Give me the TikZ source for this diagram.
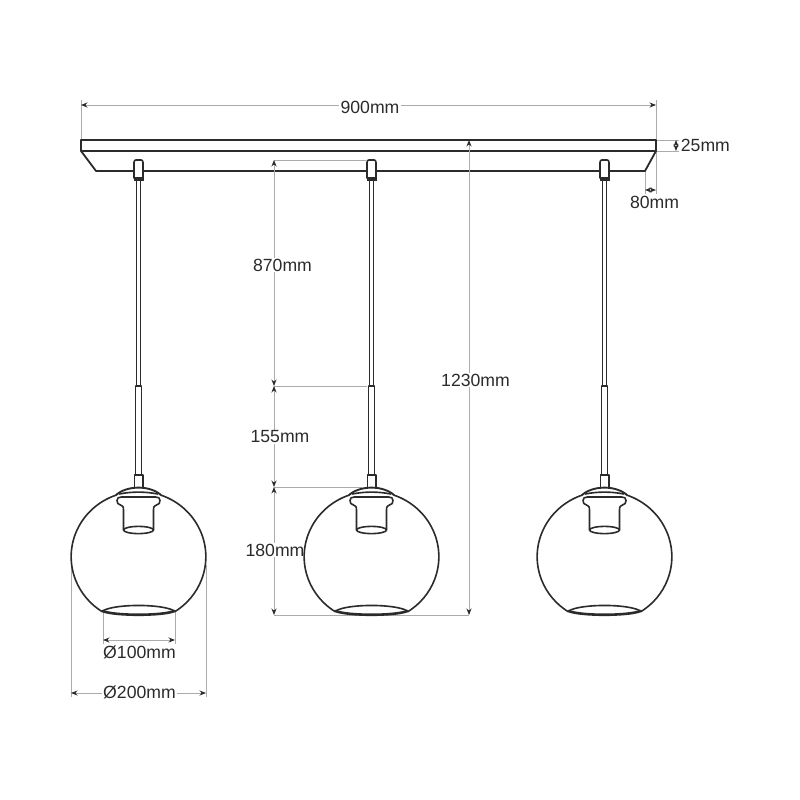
\documentclass[tikz,border=0pt]{standalone}
\usepackage{fontspec}
\setmainfont{Liberation Sans}
\usetikzlibrary{arrows.meta}
\definecolor{ink}{HTML}{2B2B2B}
\definecolor{dimgrey}{HTML}{ABABAB}
\tikzset{
  lampline/.style={draw=ink,line width=1.6bp,line join=round,line cap=round},
  thinlamp/.style={draw=ink,line width=1.1bp},
  extline/.style={draw=dimgrey,line width=0.8bp},
  dimline/.style={draw=dimgrey,line width=0.8bp,{Stealth[length=6.5bp,width=5bp,color=ink]}-{Stealth[length=6.5bp,width=5bp,color=ink]}},
  dimlabel/.style={font=\fontsize{17.7}{21}\selectfont,text=ink,fill=white,inner sep=1.2bp},
  lamp/.pic={
    % cable
    \draw[thinlamp] (-2,-180) -- (-2,-386) (2,-180) -- (2,-386);
    % ceiling socket
    \draw[lampline,fill=white] (-4.5,-178) -- (-4.5,-162.5) .. controls (-4.5,-160.5) and (-3.5,-160) .. (-2.5,-160) -- (2.5,-160) .. controls (3.5,-160) and (4.5,-160.5) .. (4.5,-162.5) -- (4.5,-178);
    \fill[ink] (-5,-176.5) rectangle (5,-180.5);
    % rod and stem
    \draw[lampline] (-2.7,-386) -- (2.7,-386);
    \draw[thinlamp] (-2.8,-386) -- (-2.8,-475) (2.8,-386) -- (2.8,-475);
    \draw[lampline] (-4.2,-487) -- (-4.2,-475) -- (4.2,-475) -- (4.2,-487);
    % glass globe
    \draw[lampline] (23.5,-495.5) arc[start angle=69.6,end angle=-57.2,x radius=67.3,y radius=65.3];
    \draw[lampline] (-23.5,-495.5) arc[start angle=110.4,end angle=237.2,x radius=67.3,y radius=65.3];
    % cap
    \draw[lampline,line width=1.9bp,fill=white] (-23,-495.5) .. controls (-12,-485) and (12,-485) .. (23,-495.5);
    \draw[lampline] (-19,-494) .. controls (-8,-491.5) and (8,-491.5) .. (19,-494);
    % holder
    \draw[lampline] (-15,-530) -- (-15,-510) .. controls (-15,-506.5) and (-16,-505.5) .. (-18,-505) .. controls (-20.5,-504.5) and (-21.5,-503) .. (-21.5,-500.5) .. controls (-21.5,-498) and (-20,-497) .. (-17,-497) -- (17,-497) .. controls (20,-497) and (21.5,-498) .. (21.5,-500.5) .. controls (21.5,-503) and (20.5,-504.5) .. (18,-505) .. controls (16,-505.5) and (15,-506.5) .. (15,-510) -- (15,-530);
    \draw[lampline] (0,-530) ellipse[x radius=15,y radius=3.6];
    % opening
    \draw[lampline] (-36,-611) .. controls (-24,-603.6) and (24,-603.6) .. (36,-611);
    \draw[draw=ink,line width=2.6bp,line cap=round] (-36,-611) .. controls (-24,-616) and (24,-616) .. (36,-611);
  }
}
\begin{document}
\begin{tikzpicture}[x=1bp,y=1bp]
\useasboundingbox (0,0) rectangle (800,-800);
\fill[white] (0,0) rectangle (800,-800);

% named reference points
\coordinate (barTL) at (81,-140);
\coordinate (barTR) at (656,-140);
\coordinate (barML) at (81,-151);
\coordinate (barMR) at (656,-151);
\coordinate (barBL) at (96,-171);
\coordinate (barBR) at (645,-171);

\coordinate (w900L) at (81,-105);
\coordinate (w900R) at (656,-105);
\coordinate (extTL) at (81,-100);
\coordinate (extTR) at (656,-100);
\coordinate (extR80) at (656,-194);
\coordinate (extB80) at (645,-194);
\coordinate (d80L) at (645,-190);
\coordinate (d80R) at (656,-190);
\coordinate (ext25a) at (679,-140);
\coordinate (ext25b) at (679,-151);
\coordinate (d25a) at (676,-140);
\coordinate (d25b) at (676,-151);

\coordinate (v160) at (274,-160);
\coordinate (v386) at (274,-386);
\coordinate (v487) at (274,-487);
\coordinate (v615) at (274,-615);
\coordinate (e160) at (366,-160);
\coordinate (e386) at (367,-386);
\coordinate (e487) at (362,-487);
\coordinate (h140) at (469,-140);
\coordinate (h615) at (469,-615);

\coordinate (op1L) at (103,-612);
\coordinate (op1R) at (175,-612);
\coordinate (op1Lb) at (103,-645);
\coordinate (op1Rb) at (175,-645);
\coordinate (d100L) at (103,-640);
\coordinate (d100R) at (175,-640);
\coordinate (gl1L) at (71,-565);
\coordinate (gl1R) at (206,-565);
\coordinate (gl1Lb) at (71,-697);
\coordinate (gl1Rb) at (206,-697);
\coordinate (d200L) at (71,-693);
\coordinate (d200R) at (206,-693);

% extension lines
\draw[extline] (extTL) -- (barTL);
\draw[extline] (extTR) -- (extR80);
\draw[extline] (barBR) -- (extB80);
\draw[extline] (barTR) -- (ext25a);
\draw[extline] (barMR) -- (ext25b);
\draw[extline] (v160) -- (e160);
\draw[extline] (v386) -- (e386);
\draw[extline] (v487) -- (e487);
\draw[extline] (v615) -- (h615);
\draw[extline] (op1L) -- (op1Lb);
\draw[extline] (op1R) -- (op1Rb);
\draw[extline] (gl1L) -- (gl1Lb);
\draw[extline] (gl1R) -- (gl1Rb);

% ceiling bar
\draw[lampline,line width=1.8bp] (barTL) -- (barTR) -- (barMR) -- (barML) -- cycle;
\draw[lampline,line width=1.8bp] (barML) -- (barBL) -- (barBR) -- (barMR);

% dimension lines
\draw[dimline] (w900L) -- (w900R);
\draw[dimline] (d80L) -- (d80R);
\draw[dimline] (d25a) -- (d25b);
\draw[dimline] (v160) -- (v386);
\draw[dimline] (v386) -- (v487);
\draw[dimline] (v487) -- (v615);
\draw[dimline] (h140) -- (h615);
\draw[dimline] (d100L) -- (d100R);
\draw[dimline] (d200L) -- (d200R);

% labels
\node[dimlabel] (t900) at (370,-107) {900mm};
\node[dimlabel,anchor=west] (t25) at (679.5,-145) {25mm};
\node[dimlabel] (t80) at (654.5,-202) {80mm};
\node[dimlabel] (t870) at (282.5,-265) {870mm};
\node[dimlabel] (t155) at (280,-437) {155mm};
\node[dimlabel] (t180) at (275,-550) {180mm};
\node[dimlabel] (t1230) at (475.5,-380) {1230mm};
\node[dimlabel] (t100) at (139.5,-652) {Ø100mm};
\node[dimlabel] (t200) at (139.5,-692) {Ø200mm};

% lamps
\pic (lampA) at (138.5,0) {lamp};
\pic (lampB) at (371.5,0) {lamp};
\pic (lampC) at (604.5,0) {lamp};
\end{tikzpicture}
\end{document}
